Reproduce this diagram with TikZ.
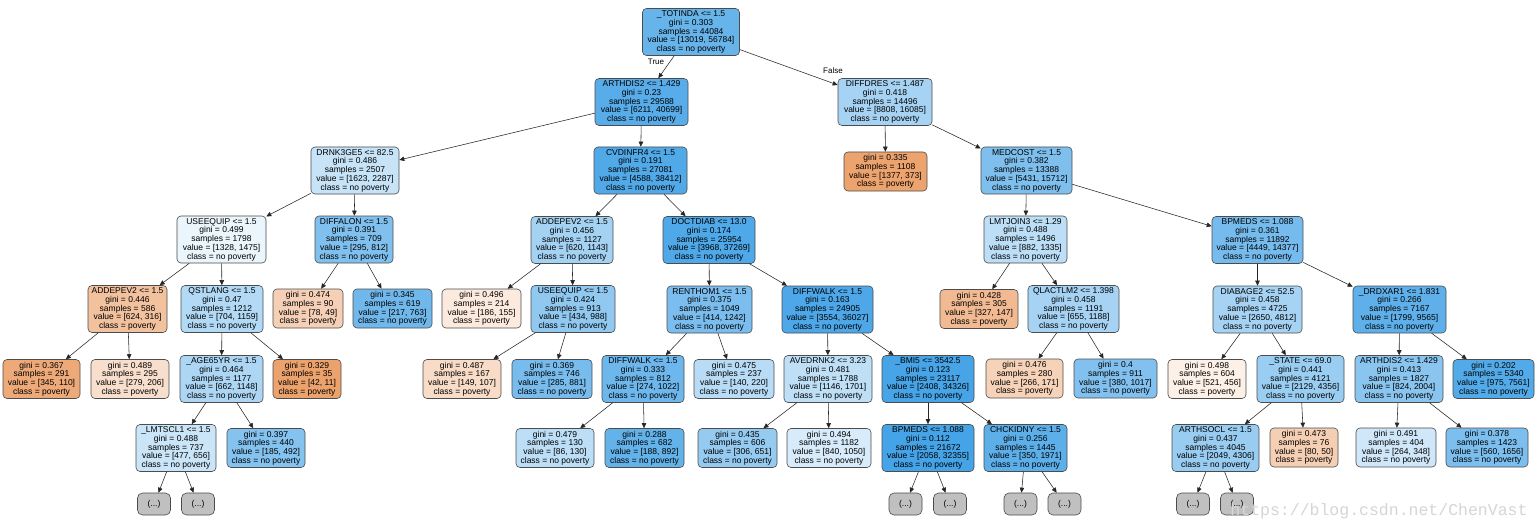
\documentclass[tikz,border=0pt]{standalone}
\usepackage{fontspec}
\setmainfont{Liberation Sans}
\newfontfamily\wmfont{Liberation Mono}
\usetikzlibrary{arrows.meta}
\definecolor{nb}{RGB}{57,157,229}
\definecolor{no}{RGB}{229,129,57}
\definecolor{ng}{RGB}{192,192,192}
\begin{document}
\begin{tikzpicture}[x=1pt,y=-1pt,
  box/.style={draw=black!70, line width=0.6pt, rounded corners=4pt, inner sep=0pt, align=center, font=\fontsize{8.5}{8.75}\selectfont, text=black},
  inode/.style={box, minimum height=47pt},
  lnode/.style={box, minimum height=39pt},
  dnode/.style={box, fill=ng, minimum width=33pt, minimum height=22pt, rounded corners=5pt},
  tedge/.style={draw=black!85, line width=0.55pt, -{Triangle[length=5pt,width=4.5pt]}},
  elabel/.style={font=\fontsize{8}{9}\selectfont}
]
\useasboundingbox[fill=white] (0,0) rectangle (1540,532);

% row 1-2
\node[inode, minimum width=97pt, fill=nb!77!white] (n0) at (691,32) {\_TOTINDA <= 1.5\\gini = 0.303\\samples = 44084\\value = [13019, 56784]\\class = no poverty};
\node[inode, minimum width=93pt, fill=nb!85!white] (n1) at (641.5,102) {ARTHDIS2 <= 1.429\\gini = 0.23\\samples = 29588\\value = [6211, 40699]\\class = no poverty};
\node[inode, minimum width=94pt, fill=nb!45!white] (n2) at (885,102) {DIFFDRES <= 1.487\\gini = 0.418\\samples = 14496\\value = [8808, 16085]\\class = no poverty};
% row 3
\node[inode, minimum width=88pt, fill=nb!29!white] (n3) at (355,170.5) {DRNK3GE5 <= 82.5\\gini = 0.486\\samples = 2507\\value = [1623, 2287]\\class = no poverty};
\node[inode, minimum width=93pt, fill=nb!88!white] (n4) at (640.5,170.5) {CVDINFR4 <= 1.5\\gini = 0.191\\samples = 27081\\value = [4588, 38412]\\class = no poverty};
\node[lnode, minimum width=83pt, fill=no!73!white] (n5) at (885.5,171.5) {gini = 0.335\\samples = 1108\\value = [1377, 373]\\class = poverty};
\node[inode, minimum width=91pt, fill=nb!65!white] (n6) at (1026.5,170.5) {MEDCOST <= 1.5\\gini = 0.382\\samples = 13388\\value = [5431, 15712]\\class = no poverty};
% row 4
\node[inode, minimum width=89pt, fill=nb!10!white] (n7) at (221.5,239.5) {USEEQUIP <= 1.5\\gini = 0.499\\samples = 1798\\value = [1328, 1475]\\class = no poverty};
\node[inode, minimum width=78pt, fill=nb!64!white] (n8) at (354,239.5) {DIFFALON <= 1.5\\gini = 0.391\\samples = 709\\value = [295, 812]\\class = no poverty};
\node[inode, minimum width=82pt, fill=nb!46!white] (n9) at (572,240) {ADDEPEV2 <= 1.5\\gini = 0.456\\samples = 1127\\value = [620, 1143]\\class = no poverty};
\node[inode, minimum width=92pt, fill=nb!89!white] (n10) at (709,240) {DOCTDIAB <= 13.0\\gini = 0.174\\samples = 25954\\value = [3968, 37269]\\class = no poverty};
\node[inode, minimum width=83pt, fill=nb!34!white] (n11) at (1025.5,239.5) {LMTJOIN3 <= 1.29\\gini = 0.488\\samples = 1496\\value = [882, 1335]\\class = no poverty};
\node[inode, minimum width=91pt, fill=nb!69!white] (n12) at (1257.5,240) {BPMEDS <= 1.088\\gini = 0.361\\samples = 11892\\value = [4449, 14377]\\class = no poverty};
% row 5
\node[inode, minimum width=79pt, fill=no!49!white] (n13) at (127.5,309) {ADDEPEV2 <= 1.5\\gini = 0.446\\samples = 586\\value = [624, 316]\\class = poverty};
\node[inode, minimum width=82pt, fill=nb!39!white] (n14) at (222,309) {QSTLANG <= 1.5\\gini = 0.47\\samples = 1212\\value = [704, 1159]\\class = no poverty};
\node[lnode, minimum width=70pt, fill=no!37!white] (n15) at (308,308.5) {gini = 0.474\\samples = 90\\value = [78, 49]\\class = poverty};
\node[lnode, minimum width=79pt, fill=nb!72!white] (n16) at (392.5,308.5) {gini = 0.345\\samples = 619\\value = [217, 763]\\class = no poverty};
\node[lnode, minimum width=79pt, fill=no!17!white] (n17) at (481.5,308.5) {gini = 0.496\\samples = 214\\value = [186, 155]\\class = poverty};
\node[inode, minimum width=84pt, fill=nb!56!white] (n18) at (573,309) {USEEQUIP <= 1.5\\gini = 0.424\\samples = 913\\value = [434, 988]\\class = no poverty};
\node[inode, minimum width=85pt, fill=nb!67!white] (n19) at (709.5,309.5) {RENTHOM1 <= 1.5\\gini = 0.375\\samples = 1049\\value = [414, 1242]\\class = no poverty};
\node[inode, minimum width=91pt, fill=nb!90!white] (n20) at (827.5,309.5) {DIFFWALK <= 1.5\\gini = 0.163\\samples = 24905\\value = [3554, 36027]\\class = no poverty};
\node[lnode, minimum width=78pt, fill=no!55!white] (n21) at (979,309) {gini = 0.428\\samples = 305\\value = [327, 147]\\class = poverty};
\node[inode, minimum width=91pt, fill=nb!45!white] (n22) at (1073.5,309) {QLACTLM2 <= 1.398\\gini = 0.458\\samples = 1191\\value = [655, 1188]\\class = no poverty};
\node[inode, minimum width=89pt, fill=nb!45!white] (n23) at (1257.5,309.5) {DIABAGE2 <= 52.5\\gini = 0.458\\samples = 4725\\value = [2650, 4812]\\class = no poverty};
\node[inode, minimum width=93pt, fill=nb!81!white] (n24) at (1399.5,309.5) {\_DRDXAR1 <= 1.831\\gini = 0.266\\samples = 7167\\value = [1799, 9565]\\class = no poverty};
% row 6
\node[lnode, minimum width=77pt, fill=no!68!white] (n25) at (41.5,379) {gini = 0.367\\samples = 291\\value = [345, 110]\\class = poverty};
\node[lnode, minimum width=78pt, fill=no!26!white] (n26) at (130,379) {gini = 0.489\\samples = 295\\value = [279, 206]\\class = poverty};
\node[inode, minimum width=83pt, fill=nb!42!white] (n27) at (221.5,379) {\_AGE65YR <= 1.5\\gini = 0.464\\samples = 1177\\value = [662, 1148]\\class = no poverty};
\node[lnode, minimum width=68pt, fill=no!74!white] (n28) at (307,379) {gini = 0.329\\samples = 35\\value = [42, 11]\\class = poverty};
\node[lnode, minimum width=78pt, fill=no!28!white] (n29) at (462,379) {gini = 0.487\\samples = 167\\value = [149, 107]\\class = poverty};
\node[lnode, minimum width=80pt, fill=nb!68!white] (n30) at (552,379) {gini = 0.369\\samples = 746\\value = [285, 881]\\class = no poverty};
\node[inode, minimum width=82pt, fill=nb!73!white] (n31) at (643,379) {DIFFWALK <= 1.5\\gini = 0.333\\samples = 812\\value = [274, 1022]\\class = no poverty};
\node[lnode, minimum width=80pt, fill=nb!36!white] (n32) at (734,379) {gini = 0.475\\samples = 237\\value = [140, 220]\\class = no poverty};
\node[inode, minimum width=88pt, fill=nb!33!white] (n33) at (828,379) {AVEDRNK2 <= 3.23\\gini = 0.481\\samples = 1788\\value = [1146, 1701]\\class = no poverty};
\node[inode, minimum width=92pt, fill=nb!93!white] (n34) at (928,379) {\_BMI5 <= 3542.5\\gini = 0.123\\samples = 23117\\value = [2408, 34326]\\class = no poverty};
\node[lnode, minimum width=77pt, fill=no!36!white] (n35) at (1024.5,378.5) {gini = 0.476\\samples = 280\\value = [266, 171]\\class = poverty};
\node[lnode, minimum width=83pt, fill=nb!63!white] (n36) at (1115.5,378.5) {gini = 0.4\\samples = 911\\value = [380, 1017]\\class = no poverty};
\node[lnode, minimum width=78pt, fill=no!12!white] (n37) at (1207,379) {gini = 0.498\\samples = 604\\value = [521, 456]\\class = poverty};
\node[inode, minimum width=87pt, fill=nb!51!white] (n38) at (1300.5,379) {\_STATE <= 69.0\\gini = 0.441\\samples = 4121\\value = [2129, 4356]\\class = no poverty};
\node[inode, minimum width=88pt, fill=nb!59!white] (n39) at (1399,379) {ARTHDIS2 <= 1.429\\gini = 0.413\\samples = 1827\\value = [824, 2004]\\class = no poverty};
\node[lnode, minimum width=81pt, fill=nb!87!white] (n40) at (1493.5,379) {gini = 0.202\\samples = 5340\\value = [975, 7561]\\class = no poverty};
% row 7
\node[inode, minimum width=80pt, fill=nb!27!white] (n41) at (176,448) {\_LMTSCL1 <= 1.5\\gini = 0.488\\samples = 737\\value = [477, 656]\\class = no poverty};
\node[lnode, minimum width=78pt, fill=nb!62!white] (n42) at (266,448) {gini = 0.397\\samples = 440\\value = [185, 492]\\class = no poverty};
\node[lnode, minimum width=78pt, fill=nb!34!white] (n43) at (555,448) {gini = 0.479\\samples = 130\\value = [86, 130]\\class = no poverty};
\node[lnode, minimum width=79pt, fill=nb!79!white] (n44) at (644.5,448) {gini = 0.288\\samples = 682\\value = [188, 892]\\class = no poverty};
\node[lnode, minimum width=79pt, fill=nb!53!white] (n45) at (737.5,448) {gini = 0.435\\samples = 606\\value = [306, 651]\\class = no poverty};
\node[lnode, minimum width=84pt, fill=nb!20!white] (n46) at (829,448) {gini = 0.494\\samples = 1182\\value = [840, 1050]\\class = no poverty};
\node[inode, minimum width=92pt, fill=nb!94!white] (n47) at (928,448) {BPMEDS <= 1.088\\gini = 0.112\\samples = 21672\\value = [2058, 32355]\\class = no poverty};
\node[inode, minimum width=83pt, fill=nb!82!white] (n48) at (1025.5,448) {CHCKIDNY <= 1.5\\gini = 0.256\\samples = 1445\\value = [350, 1971]\\class = no poverty};
\node[inode, minimum width=87pt, fill=nb!52!white] (n49) at (1215.5,448) {ARTHSOCL <= 1.5\\gini = 0.437\\samples = 4045\\value = [2049, 4306]\\class = no poverty};
\node[lnode, minimum width=68pt, fill=no!38!white] (n50) at (1304,447.5) {gini = 0.473\\samples = 76\\value = [80, 50]\\class = poverty};
\node[lnode, minimum width=80pt, fill=nb!24!white] (n51) at (1396,447.5) {gini = 0.491\\samples = 404\\value = [264, 348]\\class = no poverty};
\node[lnode, minimum width=82pt, fill=nb!66!white] (n52) at (1487,447.5) {gini = 0.378\\samples = 1423\\value = [560, 1656]\\class = no poverty};
% row 8
\node[dnode] (d1) at (154,504) {(...)};
\node[dnode] (d2) at (198,504) {(...)};
\node[dnode] (d3) at (905.5,504) {(...)};
\node[dnode] (d4) at (950,504) {(...)};
\node[dnode] (d5) at (1020.5,504) {(...)};
\node[dnode] (d6) at (1064.5,504) {(...)};
\node[dnode] (d7) at (1193,504) {(...)};
\node[dnode] (d8) at (1237,504) {(...)};

% edges
\foreach \a/\b in {n0/n1,n0/n2,n1/n3,n1/n4,n2/n5,n2/n6,n3/n7,n3/n8,n4/n9,n4/n10,n6/n11,n6/n12,
  n7/n13,n7/n14,n8/n15,n8/n16,n9/n17,n9/n18,n10/n19,n10/n20,n11/n21,n11/n22,n12/n23,n12/n24,
  n13/n25,n13/n26,n14/n27,n14/n28,n18/n29,n18/n30,n19/n31,n19/n32,n20/n33,n20/n34,n22/n35,n22/n36,
  n23/n37,n23/n38,n24/n39,n24/n40,n27/n41,n27/n42,n31/n43,n31/n44,n33/n45,n33/n46,n34/n47,n34/n48,
  n38/n49,n38/n50,n39/n51,n39/n52,n41/d1,n41/d2,n47/d3,n47/d4,n48/d5,n48/d6,n49/d7,n49/d8}
  \draw[tedge] (\a) -- (\b);

\node[elabel] (lt) at (656,62) {True};
\node[elabel] (lf) at (833,71) {False};

\node[font=\wmfont\fontsize{16.5}{18}\selectfont, text=black!16] (wm) at (1379,511) {https://blog.csdn.net/ChenVast};
\end{tikzpicture}
\end{document}
